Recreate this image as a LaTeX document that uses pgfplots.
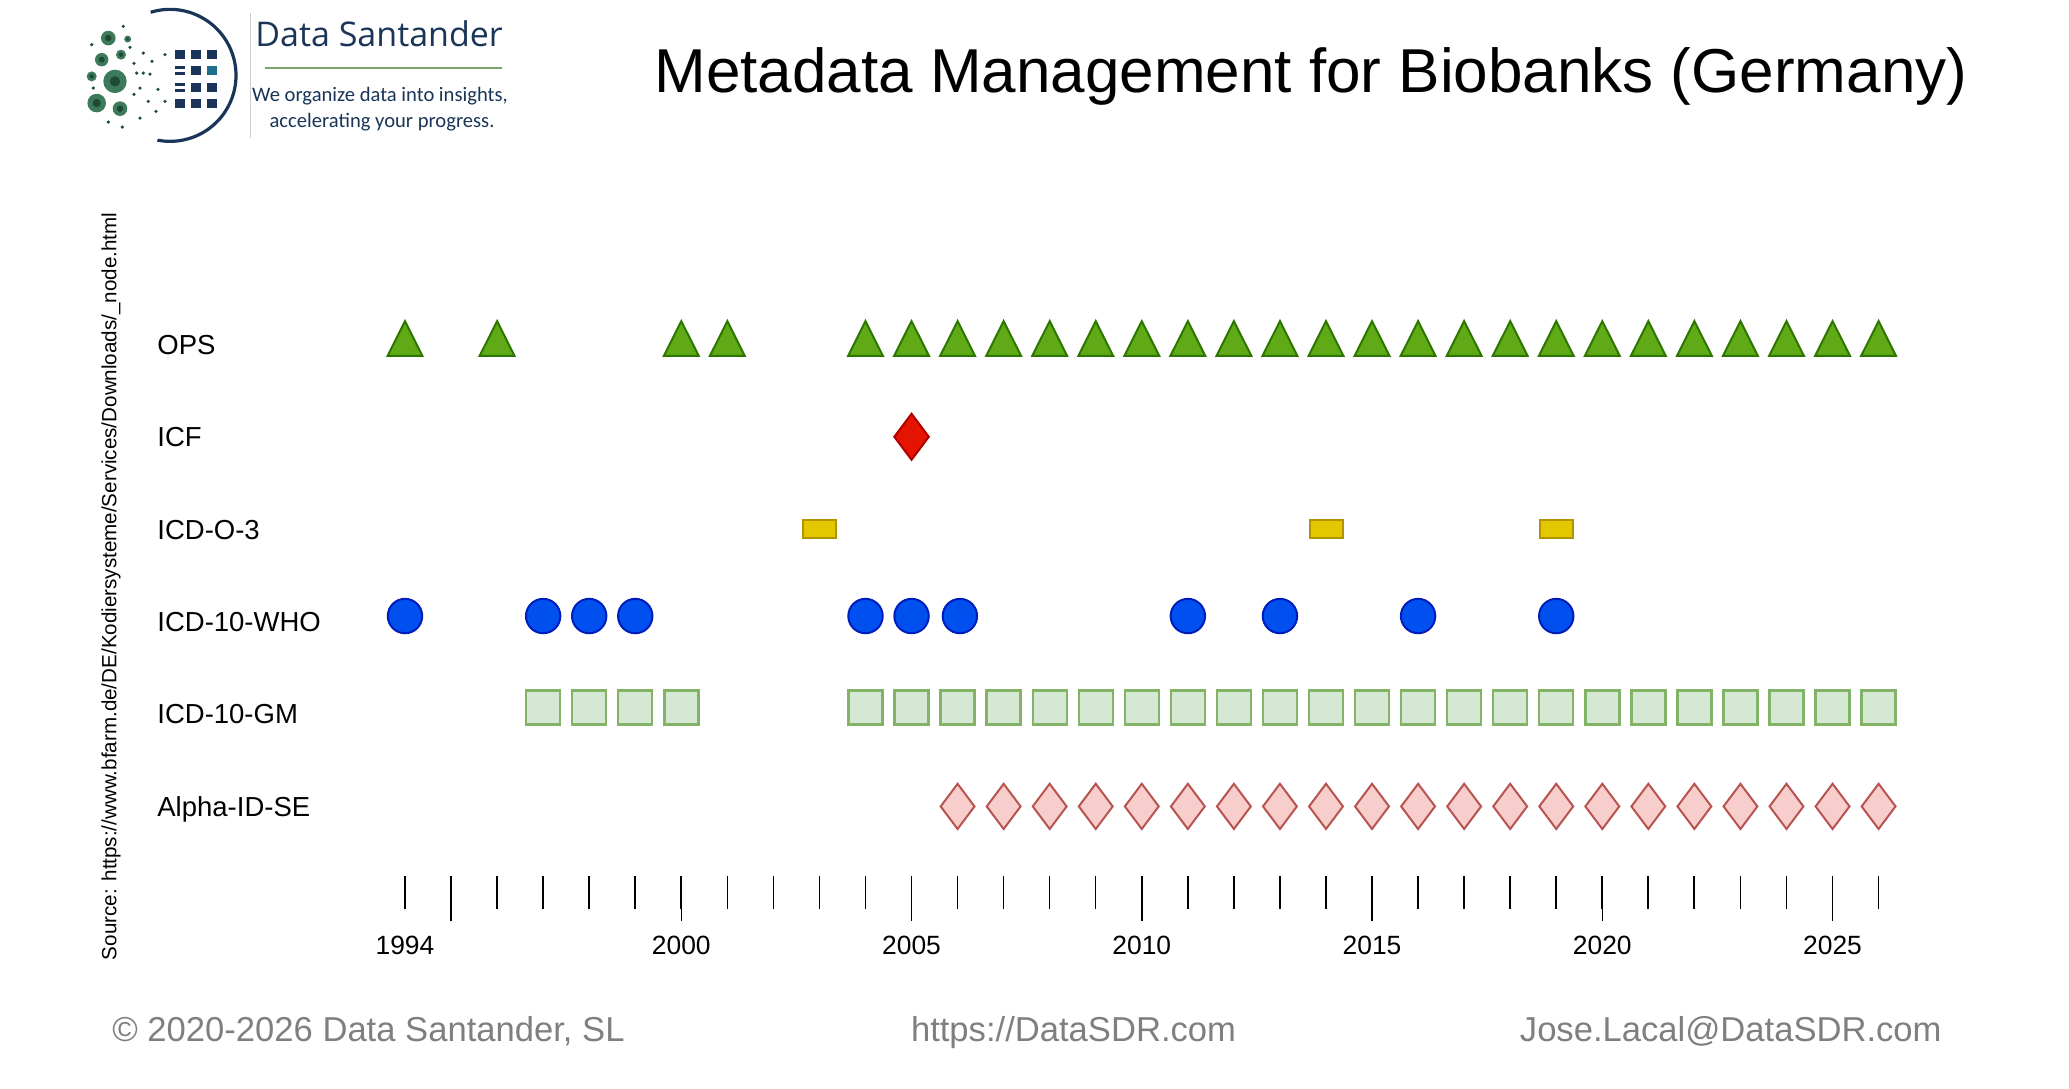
\documentclass[border=0pt]{standalone}
\usepackage{pgfplots}
\pgfplotsset{compat=1.18}
\usepackage{fontspec}
\setmainfont{Liberation Sans}
\newfontfamily\logofont{Open Sans}
\newfontfamily\tagfont{Carlito}
\definecolor{opsfill}{HTML}{60A917}\definecolor{opsdraw}{HTML}{2D7600}
\definecolor{icffill}{HTML}{E51400}\definecolor{icfdraw}{HTML}{B20000}
\definecolor{ofill}{HTML}{E3C800}\definecolor{odraw}{HTML}{B09500}
\definecolor{whofill}{HTML}{0050EF}\definecolor{whodraw}{HTML}{001DBC}
\definecolor{gmfill}{HTML}{D5E8D4}\definecolor{gmdraw}{HTML}{82B366}
\definecolor{alfill}{HTML}{F8CECC}\definecolor{aldraw}{HTML}{B85450}
\definecolor{navy}{HTML}{1A3557}
\definecolor{teal}{HTML}{1F6E8C}
\definecolor{lgreen}{HTML}{3C7A5A}
\definecolor{dgreen}{HTML}{1E4A35}
\definecolor{footgray}{HTML}{7F7F7F}
\begin{document}
\begin{tikzpicture}[x=0.5pt,y=-0.5pt]
\path (0,0) rectangle (2069,1087);
% ---------- logo ----------
\draw[navy, line width=1.6pt] (170,74) ++(107:33pt) arc[start angle=107, end angle=-101, radius=33pt];
\foreach \cx/\cy in {175/49,191/49,207/49,191/65,175/98,191/98,207/98,191/82,207/82}
  \fill[navy] (\cx,\cy) rectangle ++(10,9);
\fill[teal] (207,65) rectangle ++(10,9);
\foreach \cy in {65,71,82,88} \fill[navy] (175,\cy) rectangle ++(10,2.2);
\foreach \cx/\cy/\r in {108.3/36.7/7.3, 101.7/58.3/6.7, 91.7/75/5, 115/80/11.7, 96.7/101.7/9.3, 120/107.3/7.3, 121/53.3/5, 127.7/37.7/3.5}{
  \fill[lgreen] (\cx,\cy) circle[radius=\r*0.5pt];
  \fill[dgreen] (\cx,\cy) circle[radius=\r*0.22pt];
}
\foreach \cx/\cy in {123.3/25, 91.7/43.3, 93.3/86.7, 108.3/120.7, 122.3/125.7, 140/116.7, 165/53.3, 165/100, 140/86.7, 136.7/71.7, 143.3/71.7, 150/72.7, 143.3/51.7, 148.3/100, 134/62, 152/60, 158/88, 134/93, 130/46, 156/110}
  \fill[dgreen] (\cx,\cy) circle[radius=0.9pt];
\draw[gray!40, line width=0.5pt] (250,12) -- (250,137);
\node[anchor=base west, inner sep=0pt, text=navy, font=\logofont\fontsize{17pt}{19pt}\selectfont] at (255,45) {Data Santander};
\draw[gmdraw!70!gray, line width=0.6pt] (265,66.7) -- (502,66.7);
\node[anchor=base, inner sep=0pt, text=navy, font=\tagfont\fontsize{10.3pt}{12pt}\selectfont] at (380,100) {We organize data into insights,};
\node[anchor=base, inner sep=0pt, text=navy, font=\tagfont\fontsize{10.3pt}{12pt}\selectfont] at (382,126) {accelerating your progress.};
% ---------- title ----------
\node[anchor=base west, inner sep=0pt, font=\fontsize{31pt}{36pt}\selectfont] at (654,90.8) {Metadata Management for Biobanks (Germany)};
% ---------- source ----------
\node[rotate=90, inner sep=0pt, font=\fontsize{10.3pt}{12pt}\selectfont] at (111,585) {Source: https://www.bfarm.de/DE/Kodiersysteme/Services/Downloads/\_node.html};
% ---------- row labels ----------
\foreach \lab/\yy in {OPS/343, ICF/435.4, ICD-O-3/527.8, ICD-10-WHO/620.2, ICD-10-GM/712.6, Alpha-ID-SE/805}
  \node[anchor=base west, inner sep=0pt, font=\fontsize{13.75pt}{16pt}\selectfont] at (157,\yy+9.9) {\lab};
% ---------- axis ----------
\begin{axis}[at={(110.4pt,-437.4pt)}, anchor=south west, scale only axis,
  width=921pt, height=289pt, xmin=1990, xmax=2030, ymin=0.245, ymax=6.5,
  clip=false, axis line style={draw=none}, ytick=\empty,
  xtick={1995,2000,...,2025}, minor xtick={1994,...,2026}, xticklabels={},
  tick align=outside, xtick pos=left,
  major tick length=22.5pt, minor tick length=16.5pt,
  major tick style={black, line width=0.8pt}, minor tick style={black, line width=0.8pt}]
\addplot[only marks, mark=triangle*, mark size=10.1pt, mark options={solid, fill=opsfill, draw=opsdraw, line width=1pt, yscale=1.15}]
  coordinates {(1994,6) (1996,6) (2000,6) (2001,6) (2004,6) (2005,6) (2006,6) (2007,6) (2008,6) (2009,6) (2010,6) (2011,6) (2012,6) (2013,6) (2014,6) (2015,6) (2016,6) (2017,6) (2018,6) (2019,6) (2020,6) (2021,6) (2022,6) (2023,6) (2024,6) (2025,6) (2026,6)};
\addplot[only marks, mark=diamond*, mark size=11.5pt, mark options={solid, fill=icffill, draw=icfdraw, line width=1pt}]
  coordinates {(2005,5)};
\addplot[only marks, mark=square*, mark size=8.25pt, mark options={solid, fill=ofill, draw=odraw, line width=1pt, yscale=0.56}]
  coordinates {(2003,4) (2014,4) (2019,4)};
\addplot[only marks, mark=*, mark size=8.6pt, mark options={solid, fill=whofill, draw=whodraw, line width=1pt}]
  coordinates {(1994,3.06) (1997,3.06) (1998,3.06) (1999,3.06) (2004,3.06) (2005,3.06) (2006.05,3.06) (2011,3.06) (2013,3.06) (2016,3.06) (2019,3.06)};
\addplot[only marks, mark=square*, mark size=8.5pt, mark options={solid, fill=gmfill, draw=gmdraw, line width=1.2pt}]
  coordinates {(1997,2.07) (1998,2.07) (1999,2.07) (2000,2.07) (2004,2.07) (2005,2.07) (2006,2.07) (2007,2.07) (2008,2.07) (2009,2.07) (2010,2.07) (2011,2.07) (2012,2.07) (2013,2.07) (2014,2.07) (2015,2.07) (2016,2.07) (2017,2.07) (2018,2.07) (2019,2.07) (2020,2.07) (2021,2.07) (2022,2.07) (2023,2.07) (2024,2.07) (2025,2.07) (2026,2.07)};
\addplot[only marks, mark=diamond*, mark size=11.3pt, mark options={solid, fill=alfill, draw=aldraw, line width=1pt}]
  coordinates {(2006,1) (2007,1) (2008,1) (2009,1) (2010,1) (2011,1) (2012,1) (2013,1) (2014,1) (2015,1) (2016,1) (2017,1) (2018,1) (2019,1) (2020,1) (2021,1) (2022,1) (2023,1) (2024,1) (2025,1) (2026,1)};
\end{axis}
% ---------- tick labels ----------
\foreach \yr in {1994,2000,2005,...,2025}{
  \pgfmathsetmacro\xx{405+(\yr-1994)*46.05}
  \node[anchor=base, inner sep=0pt, font=\fontsize{13.2pt}{16pt}\selectfont] at (\xx,953) {\yr};
}
% ---------- footer ----------
\node[anchor=base west, inner sep=0pt, text=footgray, font=\fontsize{17.3pt}{20pt}\selectfont] at (112,1040) {© 2020-2026 Data Santander, SL};
\node[anchor=base, inner sep=0pt, text=footgray, font=\fontsize{17.3pt}{20pt}\selectfont] at (1073.5,1040) {https://DataSDR.com};
\node[anchor=base east, inner sep=0pt, text=footgray, font=\fontsize{17.3pt}{20pt}\selectfont] at (1942,1040) {Jose.Lacal@DataSDR.com};
\end{tikzpicture}
\end{document}
